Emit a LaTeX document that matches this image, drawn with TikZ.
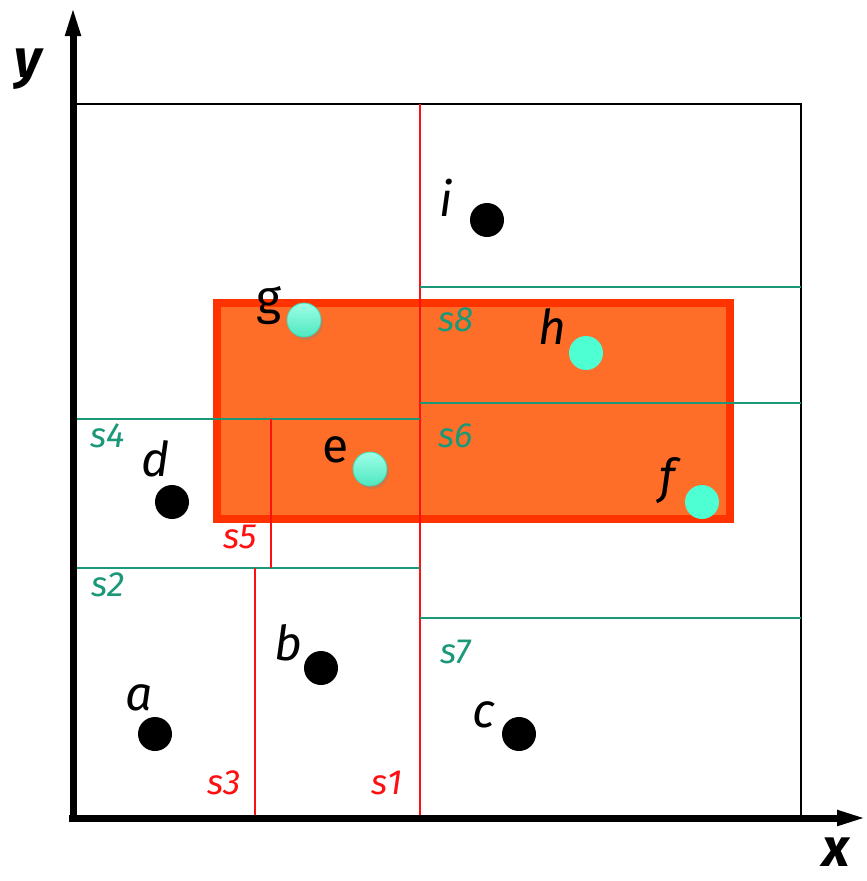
\documentclass[tikz,border=0pt]{standalone}
\usepackage{fontspec}
\setmainfont{Fira Sans}
\usetikzlibrary{arrows.meta,shadows}
\definecolor{boxorange}{HTML}{FF6E28}
\definecolor{boxedge}{HTML}{FF3300}
\definecolor{splitgreen}{HTML}{1A9878}
\definecolor{splitred}{HTML}{FF1010}
\definecolor{dotcyan}{HTML}{4DFFD2}
\tikzset{
  axis/.style={line width=7pt,-{Triangle[length=30pt,width=14pt]}},
  gline/.style={splitgreen,line width=1.8pt},
  rline/.style={splitred,line width=1.5pt},
  slab/.style={inner sep=0pt,font=\fontsize{35}{38}\selectfont\itshape},
  glab/.style={slab,text=splitgreen},
  rlab/.style={slab,text=splitred},
  plab/.style={inner sep=0pt,font=\fontsize{48}{52}\selectfont\itshape},
  ulab/.style={inner sep=0pt,font=\fontsize{48}{52}\selectfont},
  bdot/.style={circle,fill=black,minimum size=34pt,inner sep=0pt},
  cdot/.style={circle,fill=dotcyan,minimum size=34pt,inner sep=0pt},
  sdot/.style={circle,top color=dotcyan!55!white,bottom color=dotcyan!90!black!95,draw=dotcyan!85!black,line width=0.8pt,minimum size=34pt,inner sep=0pt,drop shadow={shadow xshift=2pt,shadow yshift=-3pt,opacity=0.35}},
  axlab/.style={inner sep=0pt,font=\fontsize{54}{56}\selectfont\bfseries\itshape}
}
\begin{document}
\begin{tikzpicture}[x=1pt,y=-1pt]
\useasboundingbox (0,0) rectangle (867,881);
% query rectangle
\draw[boxedge,line width=8pt,fill=boxorange] (217,303) rectangle (730,519);
% outer box
\draw[line width=1.5pt] (73,104) -- (801,104) -- (801,818);
% splits
\coordinate (s1t) at (420,104); \coordinate (s1b) at (420,818);
\draw[rline] (s1t) -- (s1b);
\coordinate (s2l) at (73,568); \coordinate (s2r) at (420,568);
\draw[gline] (s2l) -- (s2r);
\coordinate (s3t) at (255,568); \coordinate (s3b) at (255,818);
\draw[rline] (s3t) -- (s3b);
\coordinate (s4l) at (73,419); \coordinate (s4r) at (420,419);
\draw[gline] (s4l) -- (s4r);
\coordinate (s5t) at (271,419); \coordinate (s5b) at (271,568);
\draw[rline] (s5t) -- (s5b);
\coordinate (s6l) at (420,403); \coordinate (s6r) at (801,403);
\draw[gline] (s6l) -- (s6r);
\coordinate (s7l) at (420,618); \coordinate (s7r) at (801,618);
\draw[gline] (s7l) -- (s7r);
\coordinate (s8l) at (420,287); \coordinate (s8r) at (801,287);
\draw[gline] (s8l) -- (s8r);
% axes
\coordinate (origin) at (73,818);
\coordinate (ytip) at (73,6);
\coordinate (xtip) at (867,818);
\draw[axis] (73,822) -- (ytip);
\draw[axis] (69,818) -- (xtip);
\node[axlab] (ylab) at (28,69) {y};
\node[axlab] (xlab) at (836,852) {x};
% split labels
\node[rlab] (l1) at (387,783) {s1};
\node[glab] (l2) at (108,585) {s2};
\node[rlab] (l3) at (224,783) {s3};
\node[glab] (l4) at (108,436) {s4};
\node[rlab] (l5) at (240,537) {s5};
\node[glab] (l6) at (456,436) {s6};
\node[glab] (l7) at (456,652) {s7};
\node[glab] (l8) at (456,320) {s8};
% points
\node[bdot] (a) at (155,734) {};
\node[bdot] (b) at (321,668) {};
\node[bdot] (c) at (519,734) {};
\node[bdot] (d) at (172,502) {};
\node[bdot] (i) at (487,220) {};
\node[sdot] (e) at (370,469) {};
\node[sdot] (g) at (304,320) {};
\node[cdot] (h) at (586,353) {};
\node[cdot] (f) at (702,502) {};
\node[plab] (la) at (139,698) {a};
\node[plab] (lb) at (288,643) {b};
\node[plab] (lc) at (484,715) {c};
\node[plab] (ld) at (156,459) {d};
\node[ulab] (le) at (336,450) {e};
\node[plab] (lf) at (667,481) {f};
\node[ulab] (lg) at (269,306) {g};
\node[plab] (lh) at (552,327) {h};
\node[plab] (li) at (446,198) {i};
\end{tikzpicture}
\end{document}
